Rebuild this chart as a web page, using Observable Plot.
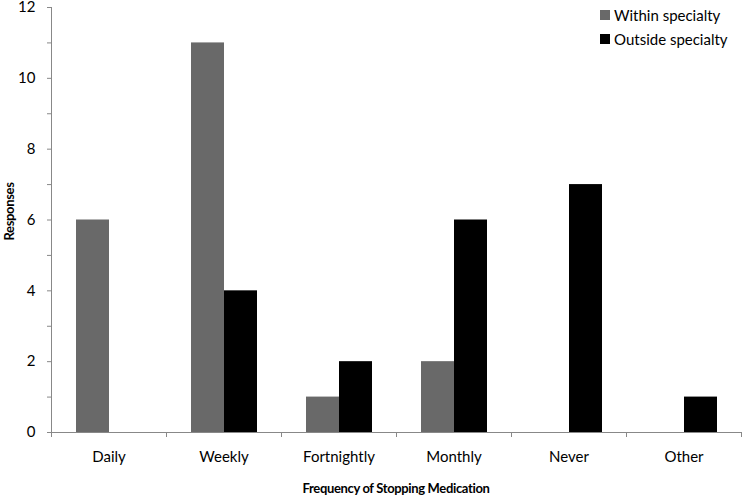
<!DOCTYPE html>
<html><head><meta charset="utf-8">
<script src="https://cdn.jsdelivr.net/npm/d3@7"></script>
<script src="https://cdn.jsdelivr.net/npm/@observablehq/plot@0.6"></script>
<style>
body{margin:0;background:#fff;font-family:Lato,sans-serif}
#wrap{position:relative;width:742px;height:497px}
.legend{position:absolute;left:600px;top:3px;font-size:15px;line-height:24px;color:#000}
.legend div{display:flex;align-items:center;white-space:nowrap}
.legend span.sw{display:inline-block;width:10px;height:10px;margin-right:4px}
</style></head><body><div id="wrap"></div>
<script>
const categories = ["Daily","Weekly","Fortnightly","Monthly","Never","Other"];
const series = ["Within specialty","Outside specialty"];
const withinValues = [6,11,1,2,0,0];
const outsideValues = [0,4,2,6,7,1];
const yTicks = [0,1,2,3,4,5,6,7,8,9,10,11,12];
const yTickLabels = [0,2,4,6,8,10,12];
const colors = ["#696969","#000000"];
const xTitle = "Frequency of Stopping Medication";
const yTitle = "Responses";

const data = categories.flatMap((c,i)=>[
  {category:c, series:series[0], value:withinValues[i]},
  {category:c, series:series[1], value:outsideValues[i]}
]);

const chart = Plot.plot({
  width:742, height:497,
  marginLeft:51, marginRight:1, marginTop:7, marginBottom:65,
  style:{fontFamily:"Lato, sans-serif", fontSize:"15px", color:"#000", background:"#fff", overflow:"visible"},
  fx:{domain:categories, paddingInner:0, paddingOuter:0, label:null},
  x:{domain:series, paddingInner:0, paddingOuter:0.74, axis:null},
  y:{domain:[0,12]},
  color:{domain:series, range:colors},
  marks:[
    Plot.axisFx({anchor:"bottom", tickSize:0, tickPadding:19, label:null}),
    Plot.axisY({ticks:yTicks, tickSize:4, tickPadding:12, stroke:"#888", tickFormat:d => yTickLabels.includes(d) ? String(d) : "", label:null}),
    Plot.barY(data, {fx:"category", x:"series", y:"value", fill:"series"}),
    Plot.frame({anchor:"left", stroke:"#888", facetAnchor:"left"}),
    Plot.ruleY([0], {stroke:"#888"})
  ]
});

const svg = d3.select(chart);
const fx = chart.scale("fx");
const y = chart.scale("y");
const bounds = categories.map(c => fx.apply(c)).concat([fx.apply(categories[categories.length-1]) + fx.step]);
const y0 = y.apply(0);
svg.append("g").attr("stroke","#888").selectAll("line").data(bounds).join("line")
  .attr("x1",d=>Math.round(d)+0.5).attr("x2",d=>Math.round(d)+0.5).attr("y1",y0).attr("y2",y0+5);
const xMid = (fx.apply(categories[0]) + bounds[bounds.length-1]) / 2;
svg.append("text").attr("x", xMid).attr("y", 493).attr("text-anchor","middle")
  .attr("font-weight","bold").attr("font-size","13px").attr("letter-spacing","-0.35px").attr("fill","#000").text(xTitle);
svg.append("text").attr("transform", `translate(14,${(y.apply(0)+y.apply(12))/2 - 8}) rotate(-90)`).attr("text-anchor","middle")
  .attr("font-weight","bold").attr("font-size","13px").attr("letter-spacing","-0.35px").attr("fill","#000").text(yTitle);

const wrap = document.getElementById("wrap");
wrap.appendChild(chart);
const legend = document.createElement("div");
legend.className = "legend";
series.forEach((s,i)=>{
  const row = document.createElement("div");
  const sw = document.createElement("span"); sw.className="sw"; sw.style.background = colors[i];
  row.appendChild(sw); row.appendChild(document.createTextNode(s));
  legend.appendChild(row);
});
wrap.appendChild(legend);
</script></body></html>
